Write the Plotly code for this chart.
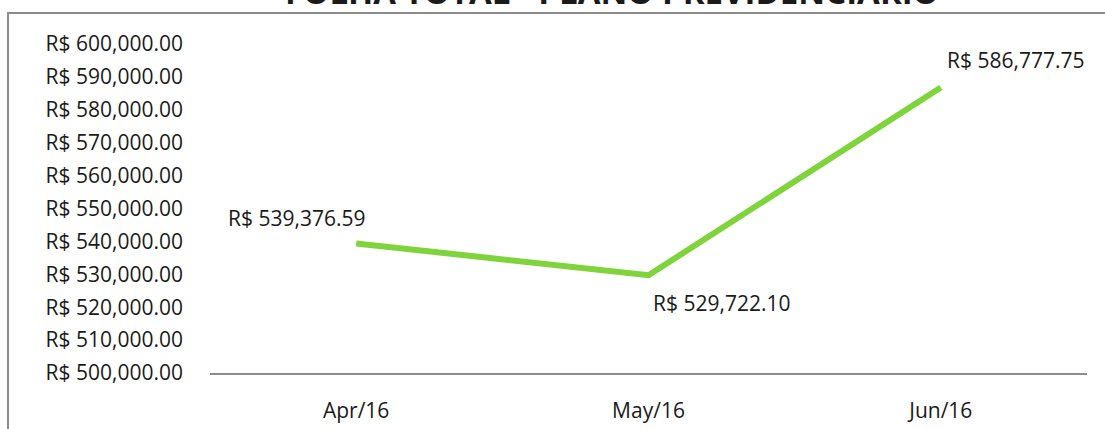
import plotly.graph_objects as go

months = ["Apr/16", "May/16", "Jun/16"]
totals = [539376.59, 529722.10, 586777.75]
label_shift_x = [-60, 73, 75]
label_shift_y = [25, -28, 28]
title_text = "FOLHA TOTAL - PLANO PREVIDENCIÁRIO"

FONT = "Open Sans"
TXT = "#1a1a1a"
FS = 21

fig = go.Figure()
fig.add_trace(go.Scatter(
    x=months, y=totals, mode="lines",
    line=dict(color="#7ed43a", width=6),
    hoverinfo="skip", showlegend=False,
))

for m, v, dx, dy in zip(months, totals, label_shift_x, label_shift_y):
    fig.add_annotation(
        x=m, y=v, xref="x", yref="y", text=f"R$ {v:,.2f}",
        showarrow=False, xshift=dx, yshift=dy,
        font=dict(family=FONT, size=FS, color=TXT),
    )

W, H = 1105, 429
L, R, T, B = 210, 18, 44, 56
pw, ph = W - L - R, H - T - B

def px_x(p):
    return (p - L) / pw

def px_y(p):
    return (H - B - p) / ph

# chart border (partially outside the view)
fig.add_shape(type="rect", xref="paper", yref="paper",
              x0=px_x(8), x1=px_x(1130), y0=px_y(13), y1=px_y(450),
              line=dict(color="#8c8c8c", width=2), fillcolor="rgba(0,0,0,0)", layer="below")

fig.add_annotation(
    x=px_x(612), y=px_y(16), xref="paper", yref="paper", xanchor="center", yanchor="bottom",
    text=f"<b>{title_text}</b>", showarrow=False,
    font=dict(family=FONT, size=33, color=TXT),
)

fig.update_layout(
    width=W, height=H,
    margin=dict(l=L, r=R, t=T, b=B),
    paper_bgcolor="white", plot_bgcolor="white",
    font=dict(family=FONT, size=FS, color=TXT),
    xaxis=dict(
        type="category", range=[-0.5, 2.5], automargin=False,
        showline=True, linecolor="#8c8c8c", linewidth=2,
        showgrid=False, zeroline=False, ticks="",
        ticklabelstandoff=18,
        tickfont=dict(family=FONT, size=FS, color=TXT),
    ),
    yaxis=dict(
        range=[500000, 600000], dtick=10000, tick0=500000, automargin=False,
        tickprefix="R$ ", tickformat=",.2f",
        showgrid=False, zeroline=False, showline=False, ticks="",
        ticklabelstandoff=26,
        tickfont=dict(family=FONT, size=FS, color=TXT),
    ),
)

fig.write_html(
    "out.html",
    config={"displayModeBar": False},
    post_script="document.body.style.margin='0';document.body.style.overflow='hidden';",
)
